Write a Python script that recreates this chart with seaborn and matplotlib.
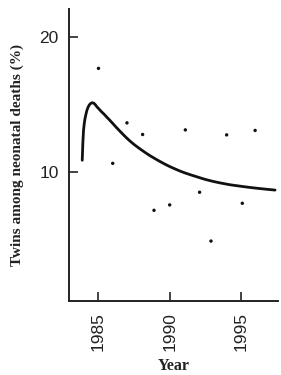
import matplotlib
matplotlib.use("Agg")
import matplotlib.pyplot as plt
import seaborn as sns
import pandas as pd

# Observed data points
years = [1985.0, 1986.0, 1987.0, 1988.1, 1988.9, 1990.0, 1991.1, 1992.1, 1992.9, 1994.0, 1995.1, 1996.0]
twins_pct = [17.7, 10.66, 13.66, 12.8, 7.18, 7.58, 13.14, 8.52, 4.9, 12.77, 7.7, 13.1]

# Fitted curve
curve_years = [1983.86, 1983.9, 1983.95, 1984.0, 1984.05, 1984.12, 1984.19, 1984.27, 1984.35, 1984.45,
               1984.54, 1984.62, 1984.7, 1984.8, 1984.89, 1985.0, 1985.2, 1985.4, 1985.59, 1985.8,
               1986.0, 1986.25, 1986.52, 1986.75, 1987.0, 1987.25, 1987.5, 1987.75, 1988.0, 1988.3,
               1988.63, 1989.0, 1989.3, 1989.65, 1990.03, 1990.35, 1990.7, 1991.05, 1991.44, 1991.8,
               1992.1, 1992.4, 1992.72, 1993.1, 1993.5, 1993.85, 1994.2, 1994.6, 1994.95, 1995.3,
               1995.6, 1996.0, 1996.35, 1996.9, 1997.4]
curve_pct = [10.89, 12.1, 13.1, 13.6, 13.95, 14.3, 14.6, 14.82, 14.98, 15.1,
             15.15, 15.14, 15.1, 14.98, 14.85, 14.73, 14.5, 14.3, 14.08, 13.85,
             13.62, 13.33, 13.03, 12.78, 12.52, 12.28, 12.06, 11.86, 11.67, 11.45,
             11.22, 10.99, 10.81, 10.61, 10.41, 10.26, 10.1, 9.96, 9.82, 9.7,
             9.6, 9.5, 9.41, 9.31, 9.22, 9.15, 9.08, 9.02, 8.97, 8.92,
             8.88, 8.83, 8.79, 8.73, 8.68]

x_ticks = [1985, 1990, 1995]
y_ticks = [10, 20]

sns.set_theme(style="white")
plt.rcParams['font.family'] = ['Liberation Sans', 'DejaVu Sans']

pts = pd.DataFrame({"Year": years, "Pct": twins_pct})
crv = pd.DataFrame({"Year": curve_years, "Pct": curve_pct})

fig = plt.figure(figsize=(2.81, 3.75), dpi=100)
ax = fig.add_axes([0.244, 0.197, 0.745, 0.779])

sns.lineplot(data=crv, x="Year", y="Pct", ax=ax, color="#111111", linewidth=2.0, sort=False)
sns.scatterplot(data=pts, x="Year", y="Pct", ax=ax, color="#111111", s=6, edgecolor="none")

ax.set_xlim(1982.9, 1997.6)
ax.set_ylim(0.45, 22.1)
ax.set_xticks(x_ticks)
ax.set_yticks(y_ticks)
ax.set_xticklabels([str(t) for t in x_ticks], rotation=90, fontsize=12.5, color="#222222")
ax.set_yticklabels([str(t) for t in y_ticks], fontsize=12.5, color="#222222")
ax.tick_params(axis="both", direction="in", length=6.5, width=1.2, color="#222222")
ax.tick_params(axis="x", pad=8, bottom=True)
ax.tick_params(axis="y", pad=7, left=True)

for side in ["top", "right"]:
    ax.spines[side].set_visible(False)
for side in ["left", "bottom"]:
    ax.spines[side].set_linewidth(1.4)
    ax.spines[side].set_color("#222222")

ax.set_xlabel("Year", family=["Liberation Serif"], fontweight="bold", fontsize=11.5, labelpad=5, color="#222222")
ax.set_ylabel("Twins among neonatal deaths (%)", family=["Liberation Serif"], fontweight="bold", fontsize=11,
              labelpad=11, color="#222222")

fig.savefig("out.png", dpi=100)
